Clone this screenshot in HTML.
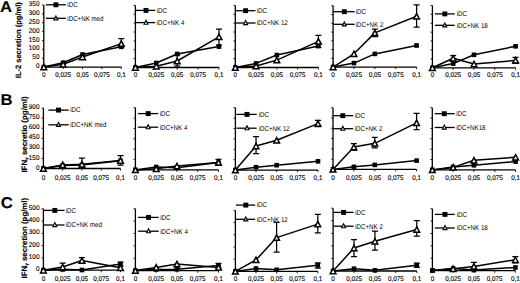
<!DOCTYPE html>
<html><head><meta charset="utf-8"><style>
html,body{margin:0;padding:0;background:#fff;}
body{width:520px;height:283px;overflow:hidden;}
svg{display:block;}
text{font-family:"Liberation Sans", sans-serif;text-rendering:geometricPrecision;fill:#000;stroke:#000;stroke-width:0.12px;}
.lg{stroke-width:0;}
</style></head><body>
<svg width="520" height="283" viewBox="0 0 520 283">
<text transform="translate(0 12.3) scale(1.07 1)" font-size="15.6" font-weight="bold">A</text>
<text transform="translate(0.4 104.6) scale(1.07 1)" font-size="15.6" font-weight="bold">B</text>
<text transform="translate(0.8 208.4) scale(1.07 1)" font-size="15.6" font-weight="bold">C</text>
<text transform="translate(21.3 78.2) rotate(-90)" font-size="7.85" font-weight="bold" textLength="76" lengthAdjust="spacingAndGlyphs">IL-2 secretion (pg/ml)</text>
<text transform="translate(26.9 172.6) rotate(-90)" font-size="7.85" font-weight="bold" textLength="76.3" lengthAdjust="spacingAndGlyphs">IFN<tspan font-size="4.6" dy="0.7">&#947;</tspan><tspan dy="-0.7"> secretio (pg/ml)</tspan></text>
<text transform="translate(26.8 278.4) rotate(-90)" font-size="7.85" font-weight="bold" textLength="80.5" lengthAdjust="spacingAndGlyphs">IFN<tspan font-size="4.6" dy="0.7">&#947;</tspan><tspan dy="-0.7"> secretion (pg/ml)</tspan></text>
<path d="M43.8 5V67.05" stroke="#000" stroke-width="1.3" fill="none"/>
<path d="M42 67.05H43.8" stroke="#000" stroke-width="0.9"/>
<text transform="translate(39.4 68.15) scale(0.93 1)" font-size="6.8" text-anchor="end">0</text>
<path d="M42 58.19H43.8" stroke="#000" stroke-width="0.9"/>
<text transform="translate(39.4 59.29) scale(0.93 1)" font-size="6.8" text-anchor="end">50</text>
<path d="M42 49.32H43.8" stroke="#000" stroke-width="0.9"/>
<text transform="translate(39.4 50.42) scale(0.93 1)" font-size="6.8" text-anchor="end">100</text>
<path d="M42 40.46H43.8" stroke="#000" stroke-width="0.9"/>
<text transform="translate(39.4 41.56) scale(0.93 1)" font-size="6.8" text-anchor="end">150</text>
<path d="M42 31.59H43.8" stroke="#000" stroke-width="0.9"/>
<text transform="translate(39.4 32.69) scale(0.93 1)" font-size="6.8" text-anchor="end">200</text>
<path d="M42 22.73H43.8" stroke="#000" stroke-width="0.9"/>
<text transform="translate(39.4 23.83) scale(0.93 1)" font-size="6.8" text-anchor="end">250</text>
<path d="M42 13.86H43.8" stroke="#000" stroke-width="0.9"/>
<text transform="translate(39.4 14.96) scale(0.93 1)" font-size="6.8" text-anchor="end">300</text>
<path d="M42 5H43.8" stroke="#000" stroke-width="0.9"/>
<text transform="translate(39.4 6.1) scale(0.93 1)" font-size="6.8" text-anchor="end">350</text>
<path d="M43.8 67.05H121.3" stroke="#000" stroke-width="1.3" fill="none"/>
<path d="M43.8 67.05V69.05" stroke="#000" stroke-width="0.9"/>
<text transform="translate(43.8 77) scale(0.93 1)" font-size="6.8" text-anchor="middle">0</text>
<path d="M63.17 67.05V69.05" stroke="#000" stroke-width="0.9"/>
<text transform="translate(63.17 77) scale(0.93 1)" font-size="6.8" text-anchor="middle">0,025</text>
<path d="M82.55 67.05V69.05" stroke="#000" stroke-width="0.9"/>
<text transform="translate(82.55 77) scale(0.93 1)" font-size="6.8" text-anchor="middle">0,05</text>
<path d="M101.92 67.05V69.05" stroke="#000" stroke-width="0.9"/>
<text transform="translate(101.92 77) scale(0.93 1)" font-size="6.8" text-anchor="middle">0,075</text>
<path d="M121.3 67.05V69.05" stroke="#000" stroke-width="0.9"/>
<text transform="translate(121.3 77) scale(0.93 1)" font-size="6.8" text-anchor="middle">0,1</text>
<path d="M45.8 4.8H65.9" stroke="#000" stroke-width="1.3"/>
<path d="M45.8 18.3H65.9" stroke="#000" stroke-width="1.3"/>
<rect x="53.45" y="2.35" width="4.9" height="4.9" fill="#000"/>
<path d="M55.9 15.9L57.85 19.9L53.95 19.9Z" fill="#fff" stroke="#000" stroke-width="1.1" stroke-linejoin="miter"/>
<text transform="translate(67.3 7.1) scale(0.87 1)" font-size="7.1" class="lg">iDC</text>
<text transform="translate(67.3 20.6) scale(0.87 1)" font-size="7.1" class="lg">iDC+NK med</text>
<path d="M121.3 38.6V47 M118.3 38.6H124.3 M118.3 47H124.3" stroke="#000" stroke-width="1.25" fill="none"/>
<polyline points="43.8,67.05 63.17,62.7 82.55,54.5 121.3,46.8" fill="none" stroke="#000" stroke-width="1.5" stroke-linejoin="round"/>
<polyline points="43.8,67.05 63.17,64.3 82.55,57 121.3,43.6" fill="none" stroke="#000" stroke-width="1.5" stroke-linejoin="round"/>
<rect x="41.5" y="64.75" width="4.6" height="4.6" fill="#000"/>
<rect x="60.88" y="60.4" width="4.6" height="4.6" fill="#000"/>
<rect x="80.25" y="52.2" width="4.6" height="4.6" fill="#000"/>
<rect x="119" y="44.5" width="4.6" height="4.6" fill="#000"/>
<path d="M43.8 64.35L46.65 69.75L40.95 69.75Z" fill="#fff" stroke="#000" stroke-width="1.5" stroke-linejoin="miter"/>
<path d="M63.17 61.6L66.02 67L60.32 67Z" fill="#fff" stroke="#000" stroke-width="1.5" stroke-linejoin="miter"/>
<path d="M82.55 54.3L85.4 59.7L79.7 59.7Z" fill="#fff" stroke="#000" stroke-width="1.5" stroke-linejoin="miter"/>
<path d="M121.3 40.9L124.15 46.3L118.45 46.3Z" fill="#fff" stroke="#000" stroke-width="1.5" stroke-linejoin="miter"/>
<path d="M135.4 5.4V67.5" stroke="#000" stroke-width="1.3" fill="none"/>
<path d="M133.6 67.5H135.4" stroke="#000" stroke-width="0.9"/>
<path d="M133.6 58.63H135.4" stroke="#000" stroke-width="0.9"/>
<path d="M133.6 49.76H135.4" stroke="#000" stroke-width="0.9"/>
<path d="M133.6 40.89H135.4" stroke="#000" stroke-width="0.9"/>
<path d="M133.6 32.01H135.4" stroke="#000" stroke-width="0.9"/>
<path d="M133.6 23.14H135.4" stroke="#000" stroke-width="0.9"/>
<path d="M133.6 14.27H135.4" stroke="#000" stroke-width="0.9"/>
<path d="M133.6 5.4H135.4" stroke="#000" stroke-width="0.9"/>
<path d="M135.4 67.5H219" stroke="#000" stroke-width="1.3" fill="none"/>
<path d="M135.4 67.5V69.5" stroke="#000" stroke-width="0.9"/>
<text transform="translate(135.4 77) scale(0.93 1)" font-size="6.8" text-anchor="middle">0</text>
<path d="M156.3 67.5V69.5" stroke="#000" stroke-width="0.9"/>
<text transform="translate(156.3 77) scale(0.93 1)" font-size="6.8" text-anchor="middle">0,025</text>
<path d="M177.2 67.5V69.5" stroke="#000" stroke-width="0.9"/>
<text transform="translate(177.2 77) scale(0.93 1)" font-size="6.8" text-anchor="middle">0,05</text>
<path d="M198.1 67.5V69.5" stroke="#000" stroke-width="0.9"/>
<text transform="translate(198.1 77) scale(0.93 1)" font-size="6.8" text-anchor="middle">0,075</text>
<path d="M219 67.5V69.5" stroke="#000" stroke-width="0.9"/>
<text transform="translate(219 77) scale(0.93 1)" font-size="6.8" text-anchor="middle">0,1</text>
<path d="M135.4 10.4H155.2" stroke="#000" stroke-width="1.3"/>
<path d="M135.4 22.6H155.2" stroke="#000" stroke-width="1.3"/>
<rect x="143.55" y="7.95" width="4.9" height="4.9" fill="#000"/>
<path d="M146 20.2L147.95 24.2L144.05 24.2Z" fill="#fff" stroke="#000" stroke-width="1.1" stroke-linejoin="miter"/>
<text transform="translate(156.7 12.7) scale(0.87 1)" font-size="7.1" class="lg">iDC</text>
<text transform="translate(156.7 24.9) scale(0.87 1)" font-size="7.1" class="lg">iDC+NK 4</text>
<path d="M177.2 55V66 M174.2 55H180.2 M174.2 66H180.2" stroke="#000" stroke-width="1.25" fill="none"/>
<path d="M219 29V45 M216 29H222 M216 45H222" stroke="#000" stroke-width="1.25" fill="none"/>
<polyline points="135.4,67.5 156.3,63 177.2,54 219,46.6" fill="none" stroke="#000" stroke-width="1.5" stroke-linejoin="round"/>
<polyline points="135.4,67.5 156.3,66.2 177.2,61 219,36.8" fill="none" stroke="#000" stroke-width="1.5" stroke-linejoin="round"/>
<rect x="133.1" y="65.2" width="4.6" height="4.6" fill="#000"/>
<rect x="154" y="60.7" width="4.6" height="4.6" fill="#000"/>
<rect x="174.9" y="51.7" width="4.6" height="4.6" fill="#000"/>
<rect x="216.7" y="44.3" width="4.6" height="4.6" fill="#000"/>
<path d="M135.4 64.8L138.25 70.2L132.55 70.2Z" fill="#fff" stroke="#000" stroke-width="1.5" stroke-linejoin="miter"/>
<path d="M156.3 63.5L159.15 68.9L153.45 68.9Z" fill="#fff" stroke="#000" stroke-width="1.5" stroke-linejoin="miter"/>
<path d="M177.2 58.3L180.05 63.7L174.35 63.7Z" fill="#fff" stroke="#000" stroke-width="1.5" stroke-linejoin="miter"/>
<path d="M219 34.1L221.85 39.5L216.15 39.5Z" fill="#fff" stroke="#000" stroke-width="1.5" stroke-linejoin="miter"/>
<path d="M235.3 5.4V67.5" stroke="#000" stroke-width="1.3" fill="none"/>
<path d="M233.5 67.5H235.3" stroke="#000" stroke-width="0.9"/>
<path d="M233.5 58.63H235.3" stroke="#000" stroke-width="0.9"/>
<path d="M233.5 49.76H235.3" stroke="#000" stroke-width="0.9"/>
<path d="M233.5 40.89H235.3" stroke="#000" stroke-width="0.9"/>
<path d="M233.5 32.01H235.3" stroke="#000" stroke-width="0.9"/>
<path d="M233.5 23.14H235.3" stroke="#000" stroke-width="0.9"/>
<path d="M233.5 14.27H235.3" stroke="#000" stroke-width="0.9"/>
<path d="M233.5 5.4H235.3" stroke="#000" stroke-width="0.9"/>
<path d="M235.3 67.5H318.4" stroke="#000" stroke-width="1.3" fill="none"/>
<path d="M235.3 67.5V69.5" stroke="#000" stroke-width="0.9"/>
<text transform="translate(235.3 77) scale(0.93 1)" font-size="6.8" text-anchor="middle">0</text>
<path d="M256.07 67.5V69.5" stroke="#000" stroke-width="0.9"/>
<text transform="translate(256.07 77) scale(0.93 1)" font-size="6.8" text-anchor="middle">0,025</text>
<path d="M276.85 67.5V69.5" stroke="#000" stroke-width="0.9"/>
<text transform="translate(276.85 77) scale(0.93 1)" font-size="6.8" text-anchor="middle">0,05</text>
<path d="M297.62 67.5V69.5" stroke="#000" stroke-width="0.9"/>
<text transform="translate(297.62 77) scale(0.93 1)" font-size="6.8" text-anchor="middle">0,075</text>
<path d="M318.4 67.5V69.5" stroke="#000" stroke-width="0.9"/>
<text transform="translate(318.4 77) scale(0.93 1)" font-size="6.8" text-anchor="middle">0,1</text>
<path d="M235.4 10.7H255.5" stroke="#000" stroke-width="1.3"/>
<path d="M235.4 23H255.5" stroke="#000" stroke-width="1.3"/>
<rect x="243.15" y="8.25" width="4.9" height="4.9" fill="#000"/>
<path d="M245.6 20.6L247.55 24.6L243.65 24.6Z" fill="#fff" stroke="#000" stroke-width="1.1" stroke-linejoin="miter"/>
<text transform="translate(256.7 13) scale(0.87 1)" font-size="7.1" class="lg">iDC</text>
<text transform="translate(256.7 25.3) scale(0.87 1)" font-size="7.1" class="lg">iDC+NK 12</text>
<path d="M318.4 35.4V47.4 M315.4 35.4H321.4 M315.4 47.4H321.4" stroke="#000" stroke-width="1.25" fill="none"/>
<polyline points="235.3,67.5 256.07,63.4 276.85,55 318.4,46.1" fill="none" stroke="#000" stroke-width="1.5" stroke-linejoin="round"/>
<polyline points="235.3,67.5 256.07,66 276.85,60.1 318.4,41.4" fill="none" stroke="#000" stroke-width="1.5" stroke-linejoin="round"/>
<rect x="233" y="65.2" width="4.6" height="4.6" fill="#000"/>
<rect x="253.77" y="61.1" width="4.6" height="4.6" fill="#000"/>
<rect x="274.55" y="52.7" width="4.6" height="4.6" fill="#000"/>
<rect x="316.1" y="43.8" width="4.6" height="4.6" fill="#000"/>
<path d="M235.3 64.8L238.15 70.2L232.45 70.2Z" fill="#fff" stroke="#000" stroke-width="1.5" stroke-linejoin="miter"/>
<path d="M256.07 63.3L258.93 68.7L253.22 68.7Z" fill="#fff" stroke="#000" stroke-width="1.5" stroke-linejoin="miter"/>
<path d="M276.85 57.4L279.7 62.8L274 62.8Z" fill="#fff" stroke="#000" stroke-width="1.5" stroke-linejoin="miter"/>
<path d="M318.4 38.7L321.25 44.1L315.55 44.1Z" fill="#fff" stroke="#000" stroke-width="1.5" stroke-linejoin="miter"/>
<path d="M333.1 5.8V67.05" stroke="#000" stroke-width="1.3" fill="none"/>
<path d="M331.3 67.05H333.1" stroke="#000" stroke-width="0.9"/>
<path d="M331.3 58.3H333.1" stroke="#000" stroke-width="0.9"/>
<path d="M331.3 49.55H333.1" stroke="#000" stroke-width="0.9"/>
<path d="M331.3 40.8H333.1" stroke="#000" stroke-width="0.9"/>
<path d="M331.3 32.05H333.1" stroke="#000" stroke-width="0.9"/>
<path d="M331.3 23.3H333.1" stroke="#000" stroke-width="0.9"/>
<path d="M331.3 14.55H333.1" stroke="#000" stroke-width="0.9"/>
<path d="M331.3 5.8H333.1" stroke="#000" stroke-width="0.9"/>
<path d="M333.1 67.05H416.6" stroke="#000" stroke-width="1.3" fill="none"/>
<path d="M333.1 67.05V69.05" stroke="#000" stroke-width="0.9"/>
<text transform="translate(333.1 77) scale(0.93 1)" font-size="6.8" text-anchor="middle">0</text>
<path d="M353.98 67.05V69.05" stroke="#000" stroke-width="0.9"/>
<text transform="translate(353.98 77) scale(0.93 1)" font-size="6.8" text-anchor="middle">0,025</text>
<path d="M374.85 67.05V69.05" stroke="#000" stroke-width="0.9"/>
<text transform="translate(374.85 77) scale(0.93 1)" font-size="6.8" text-anchor="middle">0,05</text>
<path d="M395.73 67.05V69.05" stroke="#000" stroke-width="0.9"/>
<text transform="translate(395.73 77) scale(0.93 1)" font-size="6.8" text-anchor="middle">0,075</text>
<path d="M416.6 67.05V69.05" stroke="#000" stroke-width="0.9"/>
<text transform="translate(416.6 77) scale(0.93 1)" font-size="6.8" text-anchor="middle">0,1</text>
<path d="M333.4 11.7H354.7" stroke="#000" stroke-width="1.3"/>
<path d="M333.4 24.3H354.7" stroke="#000" stroke-width="1.3"/>
<rect x="341.85" y="9.25" width="4.9" height="4.9" fill="#000"/>
<path d="M344.3 21.9L346.25 25.9L342.35 25.9Z" fill="#fff" stroke="#000" stroke-width="1.1" stroke-linejoin="miter"/>
<text transform="translate(355.7 14) scale(0.87 1)" font-size="7.1" class="lg">iDC</text>
<text transform="translate(355.7 26.6) scale(0.87 1)" font-size="7.1" class="lg">iDC+NK 2</text>
<path d="M374.85 29.2V36.6 M371.85 29.2H377.85 M371.85 36.6H377.85" stroke="#000" stroke-width="1.25" fill="none"/>
<path d="M416.6 4.8V27 M413.6 4.8H419.6 M413.6 27H419.6" stroke="#000" stroke-width="1.25" fill="none"/>
<polyline points="333.1,67.05 353.98,63.1 374.85,53.9 416.6,45.5" fill="none" stroke="#000" stroke-width="1.5" stroke-linejoin="round"/>
<polyline points="333.1,67.05 353.98,53.8 374.85,32.9 416.6,16.3" fill="none" stroke="#000" stroke-width="1.5" stroke-linejoin="round"/>
<rect x="330.8" y="64.75" width="4.6" height="4.6" fill="#000"/>
<rect x="351.68" y="60.8" width="4.6" height="4.6" fill="#000"/>
<rect x="372.55" y="51.6" width="4.6" height="4.6" fill="#000"/>
<rect x="414.3" y="43.2" width="4.6" height="4.6" fill="#000"/>
<path d="M333.1 64.35L335.95 69.75L330.25 69.75Z" fill="#fff" stroke="#000" stroke-width="1.5" stroke-linejoin="miter"/>
<path d="M353.98 51.1L356.83 56.5L351.12 56.5Z" fill="#fff" stroke="#000" stroke-width="1.5" stroke-linejoin="miter"/>
<path d="M374.85 30.2L377.7 35.6L372 35.6Z" fill="#fff" stroke="#000" stroke-width="1.5" stroke-linejoin="miter"/>
<path d="M416.6 13.6L419.45 19L413.75 19Z" fill="#fff" stroke="#000" stroke-width="1.5" stroke-linejoin="miter"/>
<path d="M432.4 5.4V67.8" stroke="#000" stroke-width="1.3" fill="none"/>
<path d="M430.6 67.8H432.4" stroke="#000" stroke-width="0.9"/>
<path d="M430.6 58.89H432.4" stroke="#000" stroke-width="0.9"/>
<path d="M430.6 49.97H432.4" stroke="#000" stroke-width="0.9"/>
<path d="M430.6 41.06H432.4" stroke="#000" stroke-width="0.9"/>
<path d="M430.6 32.14H432.4" stroke="#000" stroke-width="0.9"/>
<path d="M430.6 23.23H432.4" stroke="#000" stroke-width="0.9"/>
<path d="M430.6 14.31H432.4" stroke="#000" stroke-width="0.9"/>
<path d="M430.6 5.4H432.4" stroke="#000" stroke-width="0.9"/>
<path d="M432.4 67.8H515.6" stroke="#000" stroke-width="1.3" fill="none"/>
<path d="M432.4 67.8V69.8" stroke="#000" stroke-width="0.9"/>
<text transform="translate(432.4 77) scale(0.93 1)" font-size="6.8" text-anchor="middle">0</text>
<path d="M453.2 67.8V69.8" stroke="#000" stroke-width="0.9"/>
<text transform="translate(453.2 77) scale(0.93 1)" font-size="6.8" text-anchor="middle">0,025</text>
<path d="M474 67.8V69.8" stroke="#000" stroke-width="0.9"/>
<text transform="translate(474 77) scale(0.93 1)" font-size="6.8" text-anchor="middle">0,05</text>
<path d="M494.8 67.8V69.8" stroke="#000" stroke-width="0.9"/>
<text transform="translate(494.8 77) scale(0.93 1)" font-size="6.8" text-anchor="middle">0,075</text>
<path d="M515.6 67.8V69.8" stroke="#000" stroke-width="0.9"/>
<text transform="translate(515.6 77) scale(0.93 1)" font-size="6.8" text-anchor="middle">0,1</text>
<path d="M434.9 13.9H454.7" stroke="#000" stroke-width="1.3"/>
<path d="M434.9 25.3H454.7" stroke="#000" stroke-width="1.3"/>
<rect x="442.35" y="11.45" width="4.9" height="4.9" fill="#000"/>
<path d="M444.8 22.9L446.75 26.9L442.85 26.9Z" fill="#fff" stroke="#000" stroke-width="1.1" stroke-linejoin="miter"/>
<text transform="translate(456.7 16.2) scale(0.87 1)" font-size="7.1" class="lg">iDC</text>
<text transform="translate(456.7 27.6) scale(0.87 1)" font-size="7.1" class="lg">iDC+NK 18</text>
<path d="M453.2 55.7V61 M450.2 55.7H456.2 M450.2 61H456.2" stroke="#000" stroke-width="1.25" fill="none"/>
<path d="M515.6 57.4V63.4 M512.6 57.4H518.6 M512.6 63.4H518.6" stroke="#000" stroke-width="1.25" fill="none"/>
<polyline points="432.4,67.8 453.2,63.6 474,54.8 515.6,46.3" fill="none" stroke="#000" stroke-width="1.5" stroke-linejoin="round"/>
<polyline points="432.4,67.8 453.2,58.3 474,64 515.6,60.4" fill="none" stroke="#000" stroke-width="1.5" stroke-linejoin="round"/>
<rect x="430.1" y="65.5" width="4.6" height="4.6" fill="#000"/>
<rect x="450.9" y="61.3" width="4.6" height="4.6" fill="#000"/>
<rect x="471.7" y="52.5" width="4.6" height="4.6" fill="#000"/>
<rect x="513.3" y="44" width="4.6" height="4.6" fill="#000"/>
<path d="M432.4 65.1L435.25 70.5L429.55 70.5Z" fill="#fff" stroke="#000" stroke-width="1.5" stroke-linejoin="miter"/>
<path d="M453.2 55.6L456.05 61L450.35 61Z" fill="#fff" stroke="#000" stroke-width="1.5" stroke-linejoin="miter"/>
<path d="M474 61.3L476.85 66.7L471.15 66.7Z" fill="#fff" stroke="#000" stroke-width="1.5" stroke-linejoin="miter"/>
<path d="M515.6 57.7L518.45 63.1L512.75 63.1Z" fill="#fff" stroke="#000" stroke-width="1.5" stroke-linejoin="miter"/>
<path d="M43.4 108.1V168.5" stroke="#000" stroke-width="1.3" fill="none"/>
<path d="M41.6 168.5H43.4" stroke="#000" stroke-width="0.9"/>
<text transform="translate(39.4 169.6) scale(0.93 1)" font-size="6.8" text-anchor="end">0</text>
<path d="M41.6 158.43H43.4" stroke="#000" stroke-width="0.9"/>
<text transform="translate(39.4 159.53) scale(0.93 1)" font-size="6.8" text-anchor="end">150</text>
<path d="M41.6 148.37H43.4" stroke="#000" stroke-width="0.9"/>
<text transform="translate(39.4 149.47) scale(0.93 1)" font-size="6.8" text-anchor="end">300</text>
<path d="M41.6 138.3H43.4" stroke="#000" stroke-width="0.9"/>
<text transform="translate(39.4 139.4) scale(0.93 1)" font-size="6.8" text-anchor="end">450</text>
<path d="M41.6 128.23H43.4" stroke="#000" stroke-width="0.9"/>
<text transform="translate(39.4 129.33) scale(0.93 1)" font-size="6.8" text-anchor="end">600</text>
<path d="M41.6 118.17H43.4" stroke="#000" stroke-width="0.9"/>
<text transform="translate(39.4 119.27) scale(0.93 1)" font-size="6.8" text-anchor="end">750</text>
<path d="M41.6 108.1H43.4" stroke="#000" stroke-width="0.9"/>
<text transform="translate(39.4 109.2) scale(0.93 1)" font-size="6.8" text-anchor="end">900</text>
<path d="M43.4 168.5H120.5" stroke="#000" stroke-width="1.3" fill="none"/>
<path d="M43.4 168.5V170.5" stroke="#000" stroke-width="0.9"/>
<text transform="translate(43.4 179.8) scale(0.93 1)" font-size="6.8" text-anchor="middle">0</text>
<path d="M62.67 168.5V170.5" stroke="#000" stroke-width="0.9"/>
<text transform="translate(62.67 179.8) scale(0.93 1)" font-size="6.8" text-anchor="middle">0,025</text>
<path d="M81.95 168.5V170.5" stroke="#000" stroke-width="0.9"/>
<text transform="translate(81.95 179.8) scale(0.93 1)" font-size="6.8" text-anchor="middle">0,05</text>
<path d="M101.22 168.5V170.5" stroke="#000" stroke-width="0.9"/>
<text transform="translate(101.22 179.8) scale(0.93 1)" font-size="6.8" text-anchor="middle">0,075</text>
<path d="M120.5 168.5V170.5" stroke="#000" stroke-width="0.9"/>
<text transform="translate(120.5 179.8) scale(0.93 1)" font-size="6.8" text-anchor="middle">0,1</text>
<path d="M48.4 110.1H68.7" stroke="#000" stroke-width="1.3"/>
<path d="M48.4 124.8H68.7" stroke="#000" stroke-width="1.3"/>
<rect x="56.05" y="107.65" width="4.9" height="4.9" fill="#000"/>
<path d="M58.5 122.4L60.45 126.4L56.55 126.4Z" fill="#fff" stroke="#000" stroke-width="1.1" stroke-linejoin="miter"/>
<text transform="translate(70.2 112.4) scale(0.87 1)" font-size="7.1" class="lg">iDC</text>
<text transform="translate(70.2 127.1) scale(0.87 1)" font-size="7.1" class="lg">iDC+NK med</text>
<path d="M81.95 158V168 M78.95 158H84.95 M78.95 168H84.95" stroke="#000" stroke-width="1.25" fill="none"/>
<path d="M120.5 155.5V165 M117.5 155.5H123.5 M117.5 165H123.5" stroke="#000" stroke-width="1.25" fill="none"/>
<polyline points="43.4,168.5 62.67,165.6 81.95,165 120.5,160.8" fill="none" stroke="#000" stroke-width="1.5" stroke-linejoin="round"/>
<polyline points="43.4,168.5 62.67,164.9 81.95,164.3 120.5,160.5" fill="none" stroke="#000" stroke-width="1.5" stroke-linejoin="round"/>
<rect x="41.1" y="166.2" width="4.6" height="4.6" fill="#000"/>
<rect x="60.38" y="163.3" width="4.6" height="4.6" fill="#000"/>
<rect x="79.65" y="162.7" width="4.6" height="4.6" fill="#000"/>
<rect x="118.2" y="158.5" width="4.6" height="4.6" fill="#000"/>
<path d="M43.4 165.8L46.25 171.2L40.55 171.2Z" fill="#fff" stroke="#000" stroke-width="1.5" stroke-linejoin="miter"/>
<path d="M62.67 162.2L65.52 167.6L59.82 167.6Z" fill="#fff" stroke="#000" stroke-width="1.5" stroke-linejoin="miter"/>
<path d="M81.95 161.6L84.8 167L79.1 167Z" fill="#fff" stroke="#000" stroke-width="1.5" stroke-linejoin="miter"/>
<path d="M120.5 157.8L123.35 163.2L117.65 163.2Z" fill="#fff" stroke="#000" stroke-width="1.5" stroke-linejoin="miter"/>
<path d="M135.4 107.7V169.9" stroke="#000" stroke-width="1.3" fill="none"/>
<path d="M133.6 169.9H135.4" stroke="#000" stroke-width="0.9"/>
<path d="M133.6 159.53H135.4" stroke="#000" stroke-width="0.9"/>
<path d="M133.6 149.17H135.4" stroke="#000" stroke-width="0.9"/>
<path d="M133.6 138.8H135.4" stroke="#000" stroke-width="0.9"/>
<path d="M133.6 128.43H135.4" stroke="#000" stroke-width="0.9"/>
<path d="M133.6 118.07H135.4" stroke="#000" stroke-width="0.9"/>
<path d="M133.6 107.7H135.4" stroke="#000" stroke-width="0.9"/>
<path d="M135.4 169.9H218.5" stroke="#000" stroke-width="1.3" fill="none"/>
<path d="M135.4 169.9V171.9" stroke="#000" stroke-width="0.9"/>
<text transform="translate(135.4 179.8) scale(0.93 1)" font-size="6.8" text-anchor="middle">0</text>
<path d="M156.18 169.9V171.9" stroke="#000" stroke-width="0.9"/>
<text transform="translate(156.18 179.8) scale(0.93 1)" font-size="6.8" text-anchor="middle">0,025</text>
<path d="M176.95 169.9V171.9" stroke="#000" stroke-width="0.9"/>
<text transform="translate(176.95 179.8) scale(0.93 1)" font-size="6.8" text-anchor="middle">0,05</text>
<path d="M197.72 169.9V171.9" stroke="#000" stroke-width="0.9"/>
<text transform="translate(197.72 179.8) scale(0.93 1)" font-size="6.8" text-anchor="middle">0,075</text>
<path d="M218.5 169.9V171.9" stroke="#000" stroke-width="0.9"/>
<text transform="translate(218.5 179.8) scale(0.93 1)" font-size="6.8" text-anchor="middle">0,1</text>
<path d="M137.9 113.6H158.2" stroke="#000" stroke-width="1.3"/>
<path d="M137.9 127.2H158.2" stroke="#000" stroke-width="1.3"/>
<rect x="145.75" y="111.15" width="4.9" height="4.9" fill="#000"/>
<path d="M148.2 124.8L150.15 128.8L146.25 128.8Z" fill="#fff" stroke="#000" stroke-width="1.1" stroke-linejoin="miter"/>
<text transform="translate(159.7 115.9) scale(0.87 1)" font-size="7.1" class="lg">iDC</text>
<text transform="translate(159.7 129.5) scale(0.87 1)" font-size="7.1" class="lg">iDC+NK 4</text>
<path d="M218.5 159.3V165.4 M215.5 159.3H221.5 M215.5 165.4H221.5" stroke="#000" stroke-width="1.25" fill="none"/>
<polyline points="135.4,169.9 156.18,167 176.95,167.8 218.5,162.6" fill="none" stroke="#000" stroke-width="1.5" stroke-linejoin="round"/>
<polyline points="135.4,169.9 156.18,168.8 176.95,166 218.5,162.4" fill="none" stroke="#000" stroke-width="1.5" stroke-linejoin="round"/>
<rect x="133.1" y="167.6" width="4.6" height="4.6" fill="#000"/>
<rect x="153.88" y="164.7" width="4.6" height="4.6" fill="#000"/>
<rect x="174.65" y="165.5" width="4.6" height="4.6" fill="#000"/>
<rect x="216.2" y="160.3" width="4.6" height="4.6" fill="#000"/>
<path d="M135.4 167.2L138.25 172.6L132.55 172.6Z" fill="#fff" stroke="#000" stroke-width="1.5" stroke-linejoin="miter"/>
<path d="M156.18 166.1L159.03 171.5L153.33 171.5Z" fill="#fff" stroke="#000" stroke-width="1.5" stroke-linejoin="miter"/>
<path d="M176.95 163.3L179.8 168.7L174.1 168.7Z" fill="#fff" stroke="#000" stroke-width="1.5" stroke-linejoin="miter"/>
<path d="M218.5 159.7L221.35 165.1L215.65 165.1Z" fill="#fff" stroke="#000" stroke-width="1.5" stroke-linejoin="miter"/>
<path d="M235.4 107.7V170.1" stroke="#000" stroke-width="1.3" fill="none"/>
<path d="M233.6 170.1H235.4" stroke="#000" stroke-width="0.9"/>
<path d="M233.6 159.7H235.4" stroke="#000" stroke-width="0.9"/>
<path d="M233.6 149.3H235.4" stroke="#000" stroke-width="0.9"/>
<path d="M233.6 138.9H235.4" stroke="#000" stroke-width="0.9"/>
<path d="M233.6 128.5H235.4" stroke="#000" stroke-width="0.9"/>
<path d="M233.6 118.1H235.4" stroke="#000" stroke-width="0.9"/>
<path d="M233.6 107.7H235.4" stroke="#000" stroke-width="0.9"/>
<path d="M235.4 170.1H318" stroke="#000" stroke-width="1.3" fill="none"/>
<path d="M235.4 170.1V172.1" stroke="#000" stroke-width="0.9"/>
<text transform="translate(235.4 179.8) scale(0.93 1)" font-size="6.8" text-anchor="middle">0</text>
<path d="M256.05 170.1V172.1" stroke="#000" stroke-width="0.9"/>
<text transform="translate(256.05 179.8) scale(0.93 1)" font-size="6.8" text-anchor="middle">0,025</text>
<path d="M276.7 170.1V172.1" stroke="#000" stroke-width="0.9"/>
<text transform="translate(276.7 179.8) scale(0.93 1)" font-size="6.8" text-anchor="middle">0,05</text>
<path d="M297.35 170.1V172.1" stroke="#000" stroke-width="0.9"/>
<text transform="translate(297.35 179.8) scale(0.93 1)" font-size="6.8" text-anchor="middle">0,075</text>
<path d="M318 170.1V172.1" stroke="#000" stroke-width="0.9"/>
<text transform="translate(318 179.8) scale(0.93 1)" font-size="6.8" text-anchor="middle">0,1</text>
<path d="M236.4 114.4H256.7" stroke="#000" stroke-width="1.3"/>
<path d="M236.4 128.2H256.7" stroke="#000" stroke-width="1.3"/>
<rect x="244.55" y="111.95" width="4.9" height="4.9" fill="#000"/>
<path d="M247 125.8L248.95 129.8L245.05 129.8Z" fill="#fff" stroke="#000" stroke-width="1.1" stroke-linejoin="miter"/>
<text transform="translate(258.7 116.7) scale(0.87 1)" font-size="7.1" class="lg">iDC</text>
<text transform="translate(258.7 130.5) scale(0.87 1)" font-size="7.1" class="lg">iDC+NK 12</text>
<path d="M256.05 136.6V153.6 M253.05 136.6H259.05 M253.05 153.6H259.05" stroke="#000" stroke-width="1.25" fill="none"/>
<path d="M318 120.3V126.5 M315 120.3H321 M315 126.5H321" stroke="#000" stroke-width="1.25" fill="none"/>
<polyline points="235.4,170.1 256.05,167.2 276.7,165.2 318,161.3" fill="none" stroke="#000" stroke-width="1.5" stroke-linejoin="round"/>
<polyline points="235.4,170.1 256.05,146 276.7,140.3 318,123.6" fill="none" stroke="#000" stroke-width="1.5" stroke-linejoin="round"/>
<rect x="233.1" y="167.8" width="4.6" height="4.6" fill="#000"/>
<rect x="253.75" y="164.9" width="4.6" height="4.6" fill="#000"/>
<rect x="274.4" y="162.9" width="4.6" height="4.6" fill="#000"/>
<rect x="315.7" y="159" width="4.6" height="4.6" fill="#000"/>
<path d="M235.4 167.4L238.25 172.8L232.55 172.8Z" fill="#fff" stroke="#000" stroke-width="1.5" stroke-linejoin="miter"/>
<path d="M256.05 143.3L258.9 148.7L253.2 148.7Z" fill="#fff" stroke="#000" stroke-width="1.5" stroke-linejoin="miter"/>
<path d="M276.7 137.6L279.55 143L273.85 143Z" fill="#fff" stroke="#000" stroke-width="1.5" stroke-linejoin="miter"/>
<path d="M318 120.9L320.85 126.3L315.15 126.3Z" fill="#fff" stroke="#000" stroke-width="1.5" stroke-linejoin="miter"/>
<path d="M333 107.7V169.4" stroke="#000" stroke-width="1.3" fill="none"/>
<path d="M331.2 169.4H333" stroke="#000" stroke-width="0.9"/>
<path d="M331.2 159.12H333" stroke="#000" stroke-width="0.9"/>
<path d="M331.2 148.83H333" stroke="#000" stroke-width="0.9"/>
<path d="M331.2 138.55H333" stroke="#000" stroke-width="0.9"/>
<path d="M331.2 128.27H333" stroke="#000" stroke-width="0.9"/>
<path d="M331.2 117.98H333" stroke="#000" stroke-width="0.9"/>
<path d="M331.2 107.7H333" stroke="#000" stroke-width="0.9"/>
<path d="M333 169.4H416.6" stroke="#000" stroke-width="1.3" fill="none"/>
<path d="M333 169.4V171.4" stroke="#000" stroke-width="0.9"/>
<text transform="translate(333 179.8) scale(0.93 1)" font-size="6.8" text-anchor="middle">0</text>
<path d="M353.9 169.4V171.4" stroke="#000" stroke-width="0.9"/>
<text transform="translate(353.9 179.8) scale(0.93 1)" font-size="6.8" text-anchor="middle">0,025</text>
<path d="M374.8 169.4V171.4" stroke="#000" stroke-width="0.9"/>
<text transform="translate(374.8 179.8) scale(0.93 1)" font-size="6.8" text-anchor="middle">0,05</text>
<path d="M395.7 169.4V171.4" stroke="#000" stroke-width="0.9"/>
<text transform="translate(395.7 179.8) scale(0.93 1)" font-size="6.8" text-anchor="middle">0,075</text>
<path d="M416.6 169.4V171.4" stroke="#000" stroke-width="0.9"/>
<text transform="translate(416.6 179.8) scale(0.93 1)" font-size="6.8" text-anchor="middle">0,1</text>
<path d="M332.9 115.7H353.2" stroke="#000" stroke-width="1.3"/>
<path d="M332.9 128.7H353.2" stroke="#000" stroke-width="1.3"/>
<rect x="340.35" y="113.25" width="4.9" height="4.9" fill="#000"/>
<path d="M342.8 126.3L344.75 130.3L340.85 130.3Z" fill="#fff" stroke="#000" stroke-width="1.1" stroke-linejoin="miter"/>
<text transform="translate(354.7 118) scale(0.87 1)" font-size="7.1" class="lg">iDC</text>
<text transform="translate(354.7 131) scale(0.87 1)" font-size="7.1" class="lg">iDC+NK 2</text>
<path d="M353.9 143.6V150 M350.9 143.6H356.9 M350.9 150H356.9" stroke="#000" stroke-width="1.25" fill="none"/>
<path d="M374.8 137.3V147.9 M371.8 137.3H377.8 M371.8 147.9H377.8" stroke="#000" stroke-width="1.25" fill="none"/>
<path d="M416.6 113.3V129.6 M413.6 113.3H419.6 M413.6 129.6H419.6" stroke="#000" stroke-width="1.25" fill="none"/>
<polyline points="333,169.4 353.9,166.8 374.8,164.9 416.6,160.6" fill="none" stroke="#000" stroke-width="1.5" stroke-linejoin="round"/>
<polyline points="333,169.4 353.9,147 374.8,143.3 416.6,122.8" fill="none" stroke="#000" stroke-width="1.5" stroke-linejoin="round"/>
<rect x="330.7" y="167.1" width="4.6" height="4.6" fill="#000"/>
<rect x="351.6" y="164.5" width="4.6" height="4.6" fill="#000"/>
<rect x="372.5" y="162.6" width="4.6" height="4.6" fill="#000"/>
<rect x="414.3" y="158.3" width="4.6" height="4.6" fill="#000"/>
<path d="M333 166.7L335.85 172.1L330.15 172.1Z" fill="#fff" stroke="#000" stroke-width="1.5" stroke-linejoin="miter"/>
<path d="M353.9 144.3L356.75 149.7L351.05 149.7Z" fill="#fff" stroke="#000" stroke-width="1.5" stroke-linejoin="miter"/>
<path d="M374.8 140.6L377.65 146L371.95 146Z" fill="#fff" stroke="#000" stroke-width="1.5" stroke-linejoin="miter"/>
<path d="M416.6 120.1L419.45 125.5L413.75 125.5Z" fill="#fff" stroke="#000" stroke-width="1.5" stroke-linejoin="miter"/>
<path d="M432.3 107.7V169.9" stroke="#000" stroke-width="1.3" fill="none"/>
<path d="M430.5 169.9H432.3" stroke="#000" stroke-width="0.9"/>
<path d="M430.5 159.53H432.3" stroke="#000" stroke-width="0.9"/>
<path d="M430.5 149.17H432.3" stroke="#000" stroke-width="0.9"/>
<path d="M430.5 138.8H432.3" stroke="#000" stroke-width="0.9"/>
<path d="M430.5 128.43H432.3" stroke="#000" stroke-width="0.9"/>
<path d="M430.5 118.07H432.3" stroke="#000" stroke-width="0.9"/>
<path d="M430.5 107.7H432.3" stroke="#000" stroke-width="0.9"/>
<path d="M432.3 169.9H515.6" stroke="#000" stroke-width="1.3" fill="none"/>
<path d="M432.3 169.9V171.9" stroke="#000" stroke-width="0.9"/>
<text transform="translate(432.3 179.8) scale(0.93 1)" font-size="6.8" text-anchor="middle">0</text>
<path d="M453.12 169.9V171.9" stroke="#000" stroke-width="0.9"/>
<text transform="translate(453.12 179.8) scale(0.93 1)" font-size="6.8" text-anchor="middle">0,025</text>
<path d="M473.95 169.9V171.9" stroke="#000" stroke-width="0.9"/>
<text transform="translate(473.95 179.8) scale(0.93 1)" font-size="6.8" text-anchor="middle">0,05</text>
<path d="M494.78 169.9V171.9" stroke="#000" stroke-width="0.9"/>
<text transform="translate(494.78 179.8) scale(0.93 1)" font-size="6.8" text-anchor="middle">0,075</text>
<path d="M515.6 169.9V171.9" stroke="#000" stroke-width="0.9"/>
<text transform="translate(515.6 179.8) scale(0.93 1)" font-size="6.8" text-anchor="middle">0,1</text>
<path d="M434.7 113.7H454.7" stroke="#000" stroke-width="1.3"/>
<path d="M434.7 127.5H454.7" stroke="#000" stroke-width="1.3"/>
<rect x="441.85" y="111.25" width="4.9" height="4.9" fill="#000"/>
<path d="M444.3 125.1L446.25 129.1L442.35 129.1Z" fill="#fff" stroke="#000" stroke-width="1.1" stroke-linejoin="miter"/>
<text transform="translate(456.2 116) scale(0.87 1)" font-size="7.1" class="lg">iDC</text>
<text transform="translate(456.2 129.8) scale(0.87 1)" font-size="7.1" class="lg">iDC+NK18</text>
<polyline points="432.3,169.9 453.12,167 473.95,165.3 515.6,161.6" fill="none" stroke="#000" stroke-width="1.5" stroke-linejoin="round"/>
<polyline points="432.3,169.9 453.12,167.4 473.95,160.3 515.6,157.3" fill="none" stroke="#000" stroke-width="1.5" stroke-linejoin="round"/>
<rect x="430" y="167.6" width="4.6" height="4.6" fill="#000"/>
<rect x="450.82" y="164.7" width="4.6" height="4.6" fill="#000"/>
<rect x="471.65" y="163" width="4.6" height="4.6" fill="#000"/>
<rect x="513.3" y="159.3" width="4.6" height="4.6" fill="#000"/>
<path d="M432.3 167.2L435.15 172.6L429.45 172.6Z" fill="#fff" stroke="#000" stroke-width="1.5" stroke-linejoin="miter"/>
<path d="M453.12 164.7L455.98 170.1L450.27 170.1Z" fill="#fff" stroke="#000" stroke-width="1.5" stroke-linejoin="miter"/>
<path d="M473.95 157.6L476.8 163L471.1 163Z" fill="#fff" stroke="#000" stroke-width="1.5" stroke-linejoin="miter"/>
<path d="M515.6 154.6L518.45 160L512.75 160Z" fill="#fff" stroke="#000" stroke-width="1.5" stroke-linejoin="miter"/>
<path d="M43.4 208.8V270.2" stroke="#000" stroke-width="1.3" fill="none"/>
<path d="M41.6 270.2H43.4" stroke="#000" stroke-width="0.9"/>
<text transform="translate(39.4 271.3) scale(0.93 1)" font-size="6.8" text-anchor="end">0</text>
<path d="M41.6 257.92H43.4" stroke="#000" stroke-width="0.9"/>
<text transform="translate(39.4 259.02) scale(0.93 1)" font-size="6.8" text-anchor="end">100</text>
<path d="M41.6 245.64H43.4" stroke="#000" stroke-width="0.9"/>
<text transform="translate(39.4 246.74) scale(0.93 1)" font-size="6.8" text-anchor="end">200</text>
<path d="M41.6 233.36H43.4" stroke="#000" stroke-width="0.9"/>
<text transform="translate(39.4 234.46) scale(0.93 1)" font-size="6.8" text-anchor="end">300</text>
<path d="M41.6 221.08H43.4" stroke="#000" stroke-width="0.9"/>
<text transform="translate(39.4 222.18) scale(0.93 1)" font-size="6.8" text-anchor="end">400</text>
<path d="M41.6 208.8H43.4" stroke="#000" stroke-width="0.9"/>
<text transform="translate(39.4 209.9) scale(0.93 1)" font-size="6.8" text-anchor="end">500</text>
<path d="M43.4 270.2H120.5" stroke="#000" stroke-width="1.3" fill="none"/>
<path d="M43.4 270.2V272.2" stroke="#000" stroke-width="0.9"/>
<text transform="translate(43.4 281) scale(0.93 1)" font-size="6.8" text-anchor="middle">0</text>
<path d="M62.67 270.2V272.2" stroke="#000" stroke-width="0.9"/>
<text transform="translate(62.67 281) scale(0.93 1)" font-size="6.8" text-anchor="middle">0,025</text>
<path d="M81.95 270.2V272.2" stroke="#000" stroke-width="0.9"/>
<text transform="translate(81.95 281) scale(0.93 1)" font-size="6.8" text-anchor="middle">0,05</text>
<path d="M101.22 270.2V272.2" stroke="#000" stroke-width="0.9"/>
<text transform="translate(101.22 281) scale(0.93 1)" font-size="6.8" text-anchor="middle">0,075</text>
<path d="M120.5 270.2V272.2" stroke="#000" stroke-width="0.9"/>
<text transform="translate(120.5 281) scale(0.93 1)" font-size="6.8" text-anchor="middle">0,1</text>
<path d="M43.4 210.4H64.5" stroke="#000" stroke-width="1.3"/>
<path d="M43.4 225H64.5" stroke="#000" stroke-width="1.3"/>
<rect x="52.35" y="207.95" width="4.9" height="4.9" fill="#000"/>
<path d="M54.8 222.6L56.75 226.6L52.85 226.6Z" fill="#fff" stroke="#000" stroke-width="1.1" stroke-linejoin="miter"/>
<text transform="translate(65.7 212.7) scale(0.87 1)" font-size="7.1" class="lg">iDC</text>
<text transform="translate(65.7 227.3) scale(0.87 1)" font-size="7.1" class="lg">iDC+NK med</text>
<path d="M62.67 263.1V270.5 M59.67 263.1H65.67 M59.67 270.5H65.67" stroke="#000" stroke-width="1.25" fill="none"/>
<path d="M81.95 257.6V263.4 M78.95 257.6H84.95 M78.95 263.4H84.95" stroke="#000" stroke-width="1.25" fill="none"/>
<path d="M120.5 262V266 M117.5 262H123.5 M117.5 266H123.5" stroke="#000" stroke-width="1.25" fill="none"/>
<polyline points="43.4,270.2 62.67,269.3 81.95,270 120.5,264" fill="none" stroke="#000" stroke-width="1.5" stroke-linejoin="round"/>
<polyline points="43.4,270.2 62.67,267 81.95,260.5 120.5,267.8" fill="none" stroke="#000" stroke-width="1.5" stroke-linejoin="round"/>
<rect x="41.1" y="267.9" width="4.6" height="4.6" fill="#000"/>
<rect x="60.38" y="267" width="4.6" height="4.6" fill="#000"/>
<rect x="79.65" y="267.7" width="4.6" height="4.6" fill="#000"/>
<rect x="118.2" y="261.7" width="4.6" height="4.6" fill="#000"/>
<path d="M43.4 267.5L46.25 272.9L40.55 272.9Z" fill="#fff" stroke="#000" stroke-width="1.5" stroke-linejoin="miter"/>
<path d="M62.67 264.3L65.52 269.7L59.82 269.7Z" fill="#fff" stroke="#000" stroke-width="1.5" stroke-linejoin="miter"/>
<path d="M81.95 257.8L84.8 263.2L79.1 263.2Z" fill="#fff" stroke="#000" stroke-width="1.5" stroke-linejoin="miter"/>
<path d="M120.5 265.1L123.35 270.5L117.65 270.5Z" fill="#fff" stroke="#000" stroke-width="1.5" stroke-linejoin="miter"/>
<path d="M135.4 208.7V270.6" stroke="#000" stroke-width="1.3" fill="none"/>
<path d="M133.6 270.6H135.4" stroke="#000" stroke-width="0.9"/>
<path d="M133.6 258.22H135.4" stroke="#000" stroke-width="0.9"/>
<path d="M133.6 245.84H135.4" stroke="#000" stroke-width="0.9"/>
<path d="M133.6 233.46H135.4" stroke="#000" stroke-width="0.9"/>
<path d="M133.6 221.08H135.4" stroke="#000" stroke-width="0.9"/>
<path d="M133.6 208.7H135.4" stroke="#000" stroke-width="0.9"/>
<path d="M135.4 270.6H218.5" stroke="#000" stroke-width="1.3" fill="none"/>
<path d="M135.4 270.6V272.6" stroke="#000" stroke-width="0.9"/>
<text transform="translate(135.4 281) scale(0.93 1)" font-size="6.8" text-anchor="middle">0</text>
<path d="M156.18 270.6V272.6" stroke="#000" stroke-width="0.9"/>
<text transform="translate(156.18 281) scale(0.93 1)" font-size="6.8" text-anchor="middle">0,025</text>
<path d="M176.95 270.6V272.6" stroke="#000" stroke-width="0.9"/>
<text transform="translate(176.95 281) scale(0.93 1)" font-size="6.8" text-anchor="middle">0,05</text>
<path d="M197.72 270.6V272.6" stroke="#000" stroke-width="0.9"/>
<text transform="translate(197.72 281) scale(0.93 1)" font-size="6.8" text-anchor="middle">0,075</text>
<path d="M218.5 270.6V272.6" stroke="#000" stroke-width="0.9"/>
<text transform="translate(218.5 281) scale(0.93 1)" font-size="6.8" text-anchor="middle">0,1</text>
<path d="M138.1 217.4H158.7" stroke="#000" stroke-width="1.3"/>
<path d="M138.1 231.2H158.7" stroke="#000" stroke-width="1.3"/>
<rect x="146.05" y="214.95" width="4.9" height="4.9" fill="#000"/>
<path d="M148.5 228.8L150.45 232.8L146.55 232.8Z" fill="#fff" stroke="#000" stroke-width="1.1" stroke-linejoin="miter"/>
<text transform="translate(160.2 219.7) scale(0.87 1)" font-size="7.1" class="lg">iDC</text>
<text transform="translate(160.2 233.5) scale(0.87 1)" font-size="7.1" class="lg">iDC+NK 4</text>
<path d="M218.5 263.4V267.8 M215.5 263.4H221.5 M215.5 267.8H221.5" stroke="#000" stroke-width="1.25" fill="none"/>
<polyline points="135.4,270.6 156.18,269.5 176.95,269.2 218.5,265.6" fill="none" stroke="#000" stroke-width="1.5" stroke-linejoin="round"/>
<polyline points="135.4,270.6 156.18,267.4 176.95,264.1 218.5,267.4" fill="none" stroke="#000" stroke-width="1.5" stroke-linejoin="round"/>
<rect x="133.1" y="268.3" width="4.6" height="4.6" fill="#000"/>
<rect x="153.88" y="267.2" width="4.6" height="4.6" fill="#000"/>
<rect x="174.65" y="266.9" width="4.6" height="4.6" fill="#000"/>
<rect x="216.2" y="263.3" width="4.6" height="4.6" fill="#000"/>
<path d="M135.4 267.9L138.25 273.3L132.55 273.3Z" fill="#fff" stroke="#000" stroke-width="1.5" stroke-linejoin="miter"/>
<path d="M156.18 264.7L159.03 270.1L153.33 270.1Z" fill="#fff" stroke="#000" stroke-width="1.5" stroke-linejoin="miter"/>
<path d="M176.95 261.4L179.8 266.8L174.1 266.8Z" fill="#fff" stroke="#000" stroke-width="1.5" stroke-linejoin="miter"/>
<path d="M218.5 264.7L221.35 270.1L215.65 270.1Z" fill="#fff" stroke="#000" stroke-width="1.5" stroke-linejoin="miter"/>
<path d="M235.4 210.4V271.4" stroke="#000" stroke-width="1.3" fill="none"/>
<path d="M233.6 271.4H235.4" stroke="#000" stroke-width="0.9"/>
<path d="M233.6 259.2H235.4" stroke="#000" stroke-width="0.9"/>
<path d="M233.6 247H235.4" stroke="#000" stroke-width="0.9"/>
<path d="M233.6 234.8H235.4" stroke="#000" stroke-width="0.9"/>
<path d="M233.6 222.6H235.4" stroke="#000" stroke-width="0.9"/>
<path d="M233.6 210.4H235.4" stroke="#000" stroke-width="0.9"/>
<path d="M235.4 271.4H317.8" stroke="#000" stroke-width="1.3" fill="none"/>
<path d="M235.4 271.4V273.4" stroke="#000" stroke-width="0.9"/>
<text transform="translate(235.4 281) scale(0.93 1)" font-size="6.8" text-anchor="middle">0</text>
<path d="M256 271.4V273.4" stroke="#000" stroke-width="0.9"/>
<text transform="translate(256 281) scale(0.93 1)" font-size="6.8" text-anchor="middle">0,025</text>
<path d="M276.6 271.4V273.4" stroke="#000" stroke-width="0.9"/>
<text transform="translate(276.6 281) scale(0.93 1)" font-size="6.8" text-anchor="middle">0,05</text>
<path d="M297.2 271.4V273.4" stroke="#000" stroke-width="0.9"/>
<text transform="translate(297.2 281) scale(0.93 1)" font-size="6.8" text-anchor="middle">0,075</text>
<path d="M317.8 271.4V273.4" stroke="#000" stroke-width="0.9"/>
<text transform="translate(317.8 281) scale(0.93 1)" font-size="6.8" text-anchor="middle">0,1</text>
<path d="M235.9 205.1H255.2" stroke="#000" stroke-width="1.3"/>
<path d="M235.9 219.3H255.2" stroke="#000" stroke-width="1.3"/>
<rect x="243.35" y="202.65" width="4.9" height="4.9" fill="#000"/>
<path d="M245.8 216.9L247.75 220.9L243.85 220.9Z" fill="#fff" stroke="#000" stroke-width="1.1" stroke-linejoin="miter"/>
<text transform="translate(256.7 207.4) scale(0.87 1)" font-size="7.1" class="lg">iDC</text>
<text transform="translate(256.7 221.6) scale(0.87 1)" font-size="7.1" class="lg">iDC+NK 12</text>
<path d="M276.6 222.3V252.1 M273.6 222.3H279.6 M273.6 252.1H279.6" stroke="#000" stroke-width="1.25" fill="none"/>
<path d="M317.8 214.3V232.9 M314.8 214.3H320.8 M314.8 232.9H320.8" stroke="#000" stroke-width="1.25" fill="none"/>
<path d="M317.8 262.9V268.1 M314.8 262.9H320.8 M314.8 268.1H320.8" stroke="#000" stroke-width="1.25" fill="none"/>
<polyline points="235.4,271.4 256,268.5 276.6,269.8 317.8,265.3" fill="none" stroke="#000" stroke-width="1.5" stroke-linejoin="round"/>
<polyline points="235.4,271.4 256,259.9 276.6,237.6 317.8,224.1" fill="none" stroke="#000" stroke-width="1.5" stroke-linejoin="round"/>
<rect x="233.1" y="269.1" width="4.6" height="4.6" fill="#000"/>
<rect x="253.7" y="266.2" width="4.6" height="4.6" fill="#000"/>
<rect x="274.3" y="267.5" width="4.6" height="4.6" fill="#000"/>
<rect x="315.5" y="263" width="4.6" height="4.6" fill="#000"/>
<path d="M235.4 268.7L238.25 274.1L232.55 274.1Z" fill="#fff" stroke="#000" stroke-width="1.5" stroke-linejoin="miter"/>
<path d="M256 257.2L258.85 262.6L253.15 262.6Z" fill="#fff" stroke="#000" stroke-width="1.5" stroke-linejoin="miter"/>
<path d="M276.6 234.9L279.45 240.3L273.75 240.3Z" fill="#fff" stroke="#000" stroke-width="1.5" stroke-linejoin="miter"/>
<path d="M317.8 221.4L320.65 226.8L314.95 226.8Z" fill="#fff" stroke="#000" stroke-width="1.5" stroke-linejoin="miter"/>
<path d="M333.1 208.2V271" stroke="#000" stroke-width="1.3" fill="none"/>
<path d="M331.3 271H333.1" stroke="#000" stroke-width="0.9"/>
<path d="M331.3 258.44H333.1" stroke="#000" stroke-width="0.9"/>
<path d="M331.3 245.88H333.1" stroke="#000" stroke-width="0.9"/>
<path d="M331.3 233.32H333.1" stroke="#000" stroke-width="0.9"/>
<path d="M331.3 220.76H333.1" stroke="#000" stroke-width="0.9"/>
<path d="M331.3 208.2H333.1" stroke="#000" stroke-width="0.9"/>
<path d="M333.1 271H416.8" stroke="#000" stroke-width="1.3" fill="none"/>
<path d="M333.1 271V273" stroke="#000" stroke-width="0.9"/>
<text transform="translate(333.1 281) scale(0.93 1)" font-size="6.8" text-anchor="middle">0</text>
<path d="M354.03 271V273" stroke="#000" stroke-width="0.9"/>
<text transform="translate(354.03 281) scale(0.93 1)" font-size="6.8" text-anchor="middle">0,025</text>
<path d="M374.95 271V273" stroke="#000" stroke-width="0.9"/>
<text transform="translate(374.95 281) scale(0.93 1)" font-size="6.8" text-anchor="middle">0,05</text>
<path d="M395.88 271V273" stroke="#000" stroke-width="0.9"/>
<text transform="translate(395.88 281) scale(0.93 1)" font-size="6.8" text-anchor="middle">0,075</text>
<path d="M416.8 271V273" stroke="#000" stroke-width="0.9"/>
<text transform="translate(416.8 281) scale(0.93 1)" font-size="6.8" text-anchor="middle">0,1</text>
<path d="M333.1 212.4H353.7" stroke="#000" stroke-width="1.3"/>
<path d="M333.1 226.2H353.7" stroke="#000" stroke-width="1.3"/>
<rect x="341.15" y="209.95" width="4.9" height="4.9" fill="#000"/>
<path d="M343.6 223.8L345.55 227.8L341.65 227.8Z" fill="#fff" stroke="#000" stroke-width="1.1" stroke-linejoin="miter"/>
<text transform="translate(355.2 214.7) scale(0.87 1)" font-size="7.1" class="lg">iDC</text>
<text transform="translate(355.2 228.5) scale(0.87 1)" font-size="7.1" class="lg">iDC+NK 2</text>
<path d="M354.03 239.5V256.5 M351.03 239.5H357.03 M351.03 256.5H357.03" stroke="#000" stroke-width="1.25" fill="none"/>
<path d="M374.95 231V250 M371.95 231H377.95 M371.95 250H377.95" stroke="#000" stroke-width="1.25" fill="none"/>
<path d="M416.8 220.6V236 M413.8 220.6H419.8 M413.8 236H419.8" stroke="#000" stroke-width="1.25" fill="none"/>
<path d="M416.8 263V267.4 M413.8 263H419.8 M413.8 267.4H419.8" stroke="#000" stroke-width="1.25" fill="none"/>
<polyline points="333.1,271 354.03,268.7 374.95,270.3 416.8,265.2" fill="none" stroke="#000" stroke-width="1.5" stroke-linejoin="round"/>
<polyline points="333.1,271 354.03,248 374.95,241.2 416.8,229.5" fill="none" stroke="#000" stroke-width="1.5" stroke-linejoin="round"/>
<rect x="330.8" y="268.7" width="4.6" height="4.6" fill="#000"/>
<rect x="351.73" y="266.4" width="4.6" height="4.6" fill="#000"/>
<rect x="372.65" y="268" width="4.6" height="4.6" fill="#000"/>
<rect x="414.5" y="262.9" width="4.6" height="4.6" fill="#000"/>
<path d="M333.1 268.3L335.95 273.7L330.25 273.7Z" fill="#fff" stroke="#000" stroke-width="1.5" stroke-linejoin="miter"/>
<path d="M354.03 245.3L356.88 250.7L351.18 250.7Z" fill="#fff" stroke="#000" stroke-width="1.5" stroke-linejoin="miter"/>
<path d="M374.95 238.5L377.8 243.9L372.1 243.9Z" fill="#fff" stroke="#000" stroke-width="1.5" stroke-linejoin="miter"/>
<path d="M416.8 226.8L419.65 232.2L413.95 232.2Z" fill="#fff" stroke="#000" stroke-width="1.5" stroke-linejoin="miter"/>
<path d="M432.4 208.7V270.6" stroke="#000" stroke-width="1.3" fill="none"/>
<path d="M430.6 270.6H432.4" stroke="#000" stroke-width="0.9"/>
<path d="M430.6 258.22H432.4" stroke="#000" stroke-width="0.9"/>
<path d="M430.6 245.84H432.4" stroke="#000" stroke-width="0.9"/>
<path d="M430.6 233.46H432.4" stroke="#000" stroke-width="0.9"/>
<path d="M430.6 221.08H432.4" stroke="#000" stroke-width="0.9"/>
<path d="M430.6 208.7H432.4" stroke="#000" stroke-width="0.9"/>
<path d="M432.4 270.6H515.4" stroke="#000" stroke-width="1.3" fill="none"/>
<path d="M432.4 270.6V272.6" stroke="#000" stroke-width="0.9"/>
<text transform="translate(432.4 281) scale(0.93 1)" font-size="6.8" text-anchor="middle">0</text>
<path d="M453.15 270.6V272.6" stroke="#000" stroke-width="0.9"/>
<text transform="translate(453.15 281) scale(0.93 1)" font-size="6.8" text-anchor="middle">0,025</text>
<path d="M473.9 270.6V272.6" stroke="#000" stroke-width="0.9"/>
<text transform="translate(473.9 281) scale(0.93 1)" font-size="6.8" text-anchor="middle">0,05</text>
<path d="M494.65 270.6V272.6" stroke="#000" stroke-width="0.9"/>
<text transform="translate(494.65 281) scale(0.93 1)" font-size="6.8" text-anchor="middle">0,075</text>
<path d="M515.4 270.6V272.6" stroke="#000" stroke-width="0.9"/>
<text transform="translate(515.4 281) scale(0.93 1)" font-size="6.8" text-anchor="middle">0,1</text>
<path d="M434.9 214.4H454.7" stroke="#000" stroke-width="1.3"/>
<path d="M434.9 228H454.7" stroke="#000" stroke-width="1.3"/>
<rect x="442.55" y="211.95" width="4.9" height="4.9" fill="#000"/>
<path d="M445 225.6L446.95 229.6L443.05 229.6Z" fill="#fff" stroke="#000" stroke-width="1.1" stroke-linejoin="miter"/>
<text transform="translate(456.7 216.7) scale(0.87 1)" font-size="7.1" class="lg">iDC</text>
<text transform="translate(456.7 230.3) scale(0.87 1)" font-size="7.1" class="lg">iDC+NK 18</text>
<path d="M473.9 262.4V270.4 M470.9 262.4H476.9 M470.9 270.4H476.9" stroke="#000" stroke-width="1.25" fill="none"/>
<path d="M515.4 256.6V262.8 M512.4 256.6H518.4 M512.4 262.8H518.4" stroke="#000" stroke-width="1.25" fill="none"/>
<polyline points="432.4,270.6 453.15,268.5 473.9,270.1 515.4,267.5" fill="none" stroke="#000" stroke-width="1.5" stroke-linejoin="round"/>
<polyline points="432.4,270.6 453.15,268.8 473.9,266.4 515.4,259.7" fill="none" stroke="#000" stroke-width="1.5" stroke-linejoin="round"/>
<rect x="430.1" y="268.3" width="4.6" height="4.6" fill="#000"/>
<rect x="450.85" y="266.2" width="4.6" height="4.6" fill="#000"/>
<rect x="471.6" y="267.8" width="4.6" height="4.6" fill="#000"/>
<rect x="513.1" y="265.2" width="4.6" height="4.6" fill="#000"/>
<path d="M453.15 266.1L456 271.5L450.3 271.5Z" fill="#fff" stroke="#000" stroke-width="1.5" stroke-linejoin="miter"/>
<path d="M473.9 263.7L476.75 269.1L471.05 269.1Z" fill="#fff" stroke="#000" stroke-width="1.5" stroke-linejoin="miter"/>
<path d="M515.4 257L518.25 262.4L512.55 262.4Z" fill="#fff" stroke="#000" stroke-width="1.5" stroke-linejoin="miter"/>
<rect x="430.1" y="268.3" width="4.6" height="4.6" fill="#000"/>
</svg>
</body></html>
